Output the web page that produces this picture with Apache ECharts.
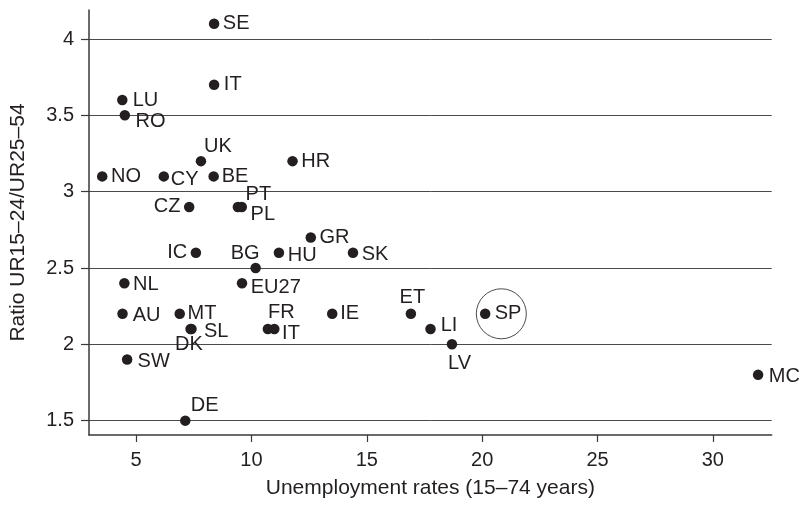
<!DOCTYPE html>
<html>
<head>
<meta charset="utf-8">
<script src="https://cdn.jsdelivr.net/npm/echarts@6/dist/echarts.min.js"></script>
<style>html,body{margin:0;padding:0;background:#fff;}#c{width:803px;height:505px;}</style>
</head>
<body>
<div id="c"></div>
<script>
// ---- data ----
const countries = ['SE','IT','LU','RO','UK','NO','CY','BE','HR','CZ','PT','PL','GR','IC','BG','HU','SK','NL','EU27','AU','MT','SL','DK','FR','IT','IE','SW','DE','ET','LI','LV','SP','MC'];
const unemploymentRate = [8.38,8.38,4.40,4.51,7.81,3.53,6.20,8.36,11.78,7.30,9.41,9.58,12.57,7.59,10.18,11.19,14.40,4.49,9.59,4.41,6.89,7.40,7.36,10.71,10.99,13.50,4.61,7.13,16.91,17.76,18.69,20.13,31.96];
const ratioYouthAdult = [4.1,3.7,3.6,3.5,3.2,3.1,3.1,3.1,3.2,2.9,2.9,2.9,2.7,2.6,2.5,2.6,2.6,2.4,2.4,2.2,2.2,2.1,2.1,2.1,2.1,2.2,1.9,1.5,2.2,2.1,2.0,2.2,1.8];
const highlight = [[20.83, 2.2]];
const xTicks = [5,10,15,20,25,30];
const yTicks = [1.5,2,2.5,3,3.5,4];

// ---- label placement (style only): [side, dx, dy] ----
const labelPlace = {
  0:['right',0,0], 1:['right',1,0], 2:['right',1.7,0], 3:['right',2,6], 4:['right',-5.7,-14.3],
  5:['right',0,0], 6:['right',-1.7,3], 7:['right',-0.7,0], 8:['right',0,0], 9:['left',0,0],
  10:['right',-1,-12], 11:['right',0,8], 12:['right',0,0], 13:['left',0,0], 14:['left',12.7,-15],
  15:['right',0,2.5], 16:['right',0,1.5], 17:['right',0,1.5], 18:['right',0,4], 19:['right',1.5,1.5],
  20:['right',-1,0], 21:['right',3.7,2], 22:['left',21,15.7], 23:['right',-8.5,-17], 24:['right',-1,4],
  25:['right',-0.7,0], 26:['right',1.7,1.7], 27:['right',-3.3,-15.3], 28:['left',23,-16.3], 29:['right',1.4,-4],
  30:['right',-12.7,19], 31:['right',0.7,0], 32:['right',2,1.5]
};

const ink = '#231f20';
const font = 'Liberation Sans, Arial, Helvetica, sans-serif';

const points = countries.map((name, i) => {
  const p = labelPlace[i] || ['right',0,0];
  return {
    name: name,
    value: [unemploymentRate[i], ratioYouthAdult[i]],
    label: { position: p[0] }
  };
});

const chart = echarts.init(document.getElementById('c'), null, {renderer:'canvas'});
chart.setOption({
  animation: false,
  backgroundColor: '#ffffff',
  grid: { left: 86.7, right: 31.3, top: 10, bottom: 70, containLabel: false },
  xAxis: {
    type: 'value',
    min: 2.957, max: 32.55,
    name: 'Unemployment rates (15\u201374 years)',
    nameLocation: 'middle',
    nameGap: 43,
    nameTextStyle: { fontFamily: font, fontSize: 21, color: ink },
    axisLine: { show: true, onZero: false, lineStyle: { color: '#3a3a3a', width: 1.5 } },
    axisTick: { show: true, length: 7, customValues: xTicks, lineStyle: { color: '#3a3a3a', width: 1.2 } },
    axisLabel: { customValues: xTicks, margin: 15, fontFamily: font, fontSize: 20, color: ink },
    splitLine: { show: false }
  },
  yAxis: {
    type: 'value',
    min: 1.406, max: 4.19,
    name: 'Ratio UR15\u201324/UR25\u201354',
    nameLocation: 'middle',
    nameGap: 60,
    nameRotate: 90,
    nameTextStyle: { fontFamily: font, fontSize: 21, color: ink },
    axisLine: { show: true, onZero: false, lineStyle: { color: '#3a3a3a', width: 1.5 } },
    axisTick: { show: true, length: 8, customValues: yTicks, lineStyle: { color: '#3a3a3a', width: 1.2 } },
    axisLabel: { customValues: yTicks, margin: 15, fontFamily: font, fontSize: 20, color: ink },
    splitLine: { show: true, lineStyle: { color: '#4a4a4a', width: 1 } }
  },
  series: [
    {
      type: 'scatter',
      data: points,
      symbol: 'circle',
      symbolSize: 10.5,
      itemStyle: { color: ink, opacity: 1 },
      label: {
        show: true,
        formatter: '{b}',
        distance: 3.5,
        fontFamily: font,
        fontSize: 20,
        color: ink
      },
      labelLayout: function (params) {
        const p = labelPlace[params.dataIndex] || ['right',0,0];
        return { dx: p[1], dy: p[2], hideOverlap: false };
      },
      z: 3
    },
    {
      type: 'scatter',
      data: highlight,
      symbol: 'circle',
      symbolSize: 50,
      itemStyle: { color: 'rgba(0,0,0,0)', borderColor: ink, borderWidth: 1 },
      silent: true,
      z: 2
    }
  ]
});
</script>
</body>
</html>
